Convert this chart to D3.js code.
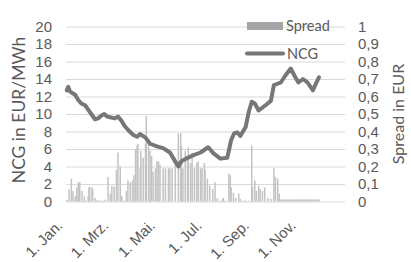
<!DOCTYPE html>
<html>
<head>
<meta charset="utf-8">
<script src="https://cdn.jsdelivr.net/npm/d3@7"></script>
<style>
  body { margin: 0; background: #fff; }
  svg { display: block; font-family: Lato, "Open Sans", sans-serif; }
  .tick text { fill: #595959; }
</style>
</head>
<body>
<svg width="411" height="262"></svg>
<script>
// NCG price, EUR/MWh
var ncgDates = ["2020-01-02","2020-01-04","2020-01-06","2020-01-09","2020-01-13","2020-01-17","2020-01-21","2020-01-26","2020-01-30",
  "2020-02-03","2020-02-08","2020-02-12","2020-02-16","2020-02-20","2020-02-24","2020-02-29","2020-03-05","2020-03-09","2020-03-13",
  "2020-03-18","2020-03-22","2020-03-29","2020-04-03","2020-04-07","2020-04-14","2020-04-20","2020-04-29","2020-05-07","2020-05-16",
  "2020-05-22","2020-05-27","2020-05-31","2020-06-06","2020-06-16","2020-06-25","2020-07-05","2020-07-12","2020-07-21","2020-07-30",
  "2020-08-04","2020-08-08","2020-08-12","2020-08-16","2020-08-23","2020-08-27","2020-08-31","2020-09-04","2020-09-09","2020-09-18",
  "2020-09-25","2020-09-29","2020-10-08","2020-10-14","2020-10-21","2020-10-27","2020-10-31","2020-11-06","2020-11-12","2020-11-19",
  "2020-11-23","2020-11-27"];
var ncgValues = [12.7,13.1,12.6,12.4,12.2,11.6,11.2,11.0,10.5,
  10.0,9.4,9.5,9.8,10.0,9.7,9.6,9.5,9.7,9.3,
  8.6,8.2,7.6,7.4,7.7,7.3,6.6,6.3,6.1,5.6,
  4.7,4.0,4.6,4.9,5.3,5.6,6.2,5.5,4.9,5.0,
  7.0,7.8,7.9,7.5,8.5,10.2,11.4,11.2,10.4,11.0,
  11.5,13.3,13.6,14.4,15.2,14.2,13.6,14.0,13.6,12.7,
  13.5,14.2];

// Spread, EUR
var spreadDates = ["2020-01-02","2020-01-05","2020-01-08","2020-01-10","2020-01-13","2020-01-15","2020-01-17","2020-01-19","2020-01-22",
  "2020-01-25","2020-01-27","2020-01-30","2020-01-31","2020-02-01","2020-02-04","2020-02-05","2020-02-08","2020-02-11","2020-02-13",
  "2020-02-16","2020-02-19","2020-02-21","2020-02-25","2020-02-28","2020-03-01","2020-03-04","2020-03-07","2020-03-09","2020-03-12",
  "2020-03-14","2020-03-17","2020-03-20","2020-03-22","2020-03-25","2020-03-28","2020-03-30","2020-04-01","2020-04-03","2020-04-04",
  "2020-04-07","2020-04-08","2020-04-11","2020-04-14","2020-04-15","2020-04-18","2020-04-20","2020-04-22","2020-04-24","2020-04-27",
  "2020-04-29","2020-05-01","2020-05-03","2020-05-07","2020-05-10","2020-05-14","2020-05-16","2020-05-19","2020-05-23","2020-05-27",
  "2020-05-30","2020-05-31","2020-06-02","2020-06-05","2020-06-08","2020-06-09","2020-06-12","2020-06-14","2020-06-17","2020-06-20",
  "2020-06-22","2020-06-25","2020-06-27","2020-06-30","2020-07-01","2020-07-04","2020-07-07","2020-07-11","2020-07-14","2020-07-17",
  "2020-07-21","2020-07-24","2020-07-25","2020-07-28","2020-08-01","2020-08-03","2020-08-04","2020-08-07","2020-08-10","2020-08-14",
  "2020-08-16","2020-08-20","2020-08-23","2020-08-27","2020-08-31","2020-09-01","2020-09-04","2020-09-06","2020-09-09","2020-09-11",
  "2020-09-14","2020-09-17","2020-09-21","2020-09-25","2020-09-29","2020-10-01","2020-10-04","2020-10-06",
  "2020-10-08","2020-10-10","2020-10-12","2020-10-14","2020-10-16","2020-10-18","2020-10-20","2020-10-22","2020-10-24","2020-10-26",
  "2020-10-28","2020-10-30","2020-11-01","2020-11-03","2020-11-05","2020-11-07","2020-11-09","2020-11-11","2020-11-13","2020-11-15",
  "2020-11-17","2020-11-19","2020-11-21","2020-11-23","2020-11-25","2020-11-27"];
var spreadValues = [0.01,0.07,0.13,0.06,0.03,0.08,0.11,0.11,0.06,
  0.03,0.005,0.03,0.08,0.085,0.08,0.07,0.02,0.01,0.005,
  0.005,0.005,0.01,0.14,0.045,0.09,0.085,0.18,0.28,0.2,
  0.03,0.005,0.06,0.12,0.11,0.12,0.15,0.3,0.32,0.33,
  0.19,0.29,0.25,0.33,0.49,0.33,0.29,0.26,0.17,0.19,
  0.23,0.23,0.21,0.19,0.19,0.19,0.19,0.19,0.25,0.39,
  0.39,0.32,0.19,0.29,0.25,0.31,0.22,0.28,0.19,0.22,
  0.23,0.19,0.19,0.22,0.18,0.13,0.09,0.07,0.11,0.02,
  0.005,0.015,0.02,0.005,0.16,0.15,0.08,0.05,0.02,0.045,
  0.015,0.005,0.005,0.005,0.32,0.08,0.12,0.06,0.09,0.07,
  0.06,0.08,0.02,0.015,0.19,0.14,0.13,0.045,
  0.012,0.012,0.012,0.012,0.012,0.012,0.012,0.012,0.012,0.012,
  0.012,0.012,0.012,0.012,0.012,0.012,0.012,0.012,0.012,0.012,
  0.012,0.012,0.012,0.012,0.012,0.012];

var tickDates = ["2020-01-01","2020-03-01","2020-05-01","2020-07-01","2020-09-01","2020-11-01"];
var tickLabels = ["1. Jan.","1. Mrz.","1. Mai.","1. Jul.","1. Sep.","1. Nov."];
var ncgTicks = [0,2,4,6,8,10,12,14,16,18,20];
var spreadTicks = [0,0.1,0.2,0.3,0.4,0.5,0.6,0.7,0.8,0.9,1];

var parse = d3.timeParse("%Y-%m-%d");
var de = d3.formatLocale({decimal: ",", thousands: ".", grouping: [3], currency: ["", " €"]});

var svg = d3.select("svg");
var plotLeft = 66, plotRight = 345, plotTop = 26.5, plotBottom = 201.5;

var x = d3.scaleTime()
    .domain([parse("2020-01-01"), parse("2020-12-31")])
    .range([plotLeft, plotRight]);
var yL = d3.scaleLinear().domain([0, 20]).range([plotBottom, plotTop]);
var yR = d3.scaleLinear().domain([0, 1]).range([plotBottom, plotTop]);

// gridlines
svg.append("g")
    .attr("transform", "translate(" + plotLeft + ",0)")
    .call(d3.axisLeft(yL).tickValues(ncgTicks).tickSize(-(plotRight - plotLeft)).tickFormat(""))
    .call(function (g) {
        g.select(".domain").remove();
        g.selectAll("line").attr("stroke", "#d9d9d9");
    });

// spread bars
var spread = spreadDates.map(function (d, i) {
    return {date: parse(d), value: spreadValues[i]};
});
svg.append("g")
    .selectAll("rect")
    .data(spread)
    .enter().append("rect")
    .attr("x", function (d) { return x(d.date) - 0.75; })
    .attr("width", 1.5)
    .attr("y", function (d) { return yR(d.value); })
    .attr("height", function (d) { return yR(0) - yR(d.value); })
    .attr("fill", "#c3c3c3");

// NCG line
var ncg = ncgDates.map(function (d, i) {
    return {date: parse(d), value: ncgValues[i]};
});
svg.append("path")
    .datum(ncg)
    .attr("fill", "none")
    .attr("stroke", "#777777")
    .attr("stroke-width", 4)
    .attr("stroke-linejoin", "round")
    .attr("stroke-linecap", "round")
    .attr("d", d3.line()
        .x(function (d) { return x(d.date); })
        .y(function (d) { return yL(d.value); }));

// left axis
svg.append("g")
    .attr("transform", "translate(" + (plotLeft - 14) + ",0)")
    .call(d3.axisLeft(yL).tickValues(ncgTicks).tickSize(0).tickPadding(0))
    .call(function (g) {
        g.select(".domain").remove();
        g.selectAll("text").style("font-size", "15px");
    });

// right axis
svg.append("g")
    .attr("transform", "translate(" + (plotRight + 13) + ",0)")
    .call(d3.axisRight(yR).tickValues(spreadTicks).tickSize(0).tickPadding(0)
        .tickFormat(function (d) { return d === 0 || d === 1 ? d : de.format(".1f")(d); }))
    .call(function (g) {
        g.select(".domain").remove();
        g.selectAll("text").style("font-size", "15px");
    });

// bottom axis
svg.append("g")
    .attr("transform", "translate(0," + plotBottom + ")")
    .call(d3.axisBottom(x).tickValues(tickDates.map(parse)).tickSize(0)
        .tickFormat(function (d, i) { return tickLabels[i]; }))
    .call(function (g) {
        g.select(".domain").remove();
        g.selectAll("text")
            .style("font-size", "15px")
            .attr("text-anchor", "end")
            .attr("dy", 0)
            .attr("y", 0)
            .attr("transform", "translate(-3,25) rotate(-45)");
    });

// axis titles
svg.append("text")
    .attr("transform", "translate(25,110) rotate(-90)")
    .attr("text-anchor", "middle")
    .style("font-size", "17.5px")
    .style("fill", "#595959")
    .text("NCG in EUR/MWh");

svg.append("text")
    .attr("transform", "translate(404,114) rotate(-90)")
    .attr("text-anchor", "middle")
    .style("font-size", "16px")
    .style("fill", "#595959")
    .text("Spread in EUR");

// legend
var legend = svg.append("g");
legend.append("rect")
    .attr("x", 247).attr("y", 22).attr("width", 36).attr("height", 8)
    .attr("fill", "#a6a6a6");
legend.append("text")
    .attr("x", 286).attr("y", 31)
    .style("font-size", "14.5px").style("fill", "#595959")
    .text("Spread");
legend.append("line")
    .attr("x1", 247).attr("x2", 283).attr("y1", 53.5).attr("y2", 53.5)
    .attr("stroke", "#777777").attr("stroke-width", 4).attr("stroke-linecap", "round");
legend.append("text")
    .attr("x", 287).attr("y", 59)
    .style("font-size", "14.5px").style("fill", "#595959")
    .text("NCG");
</script>
</body>
</html>
